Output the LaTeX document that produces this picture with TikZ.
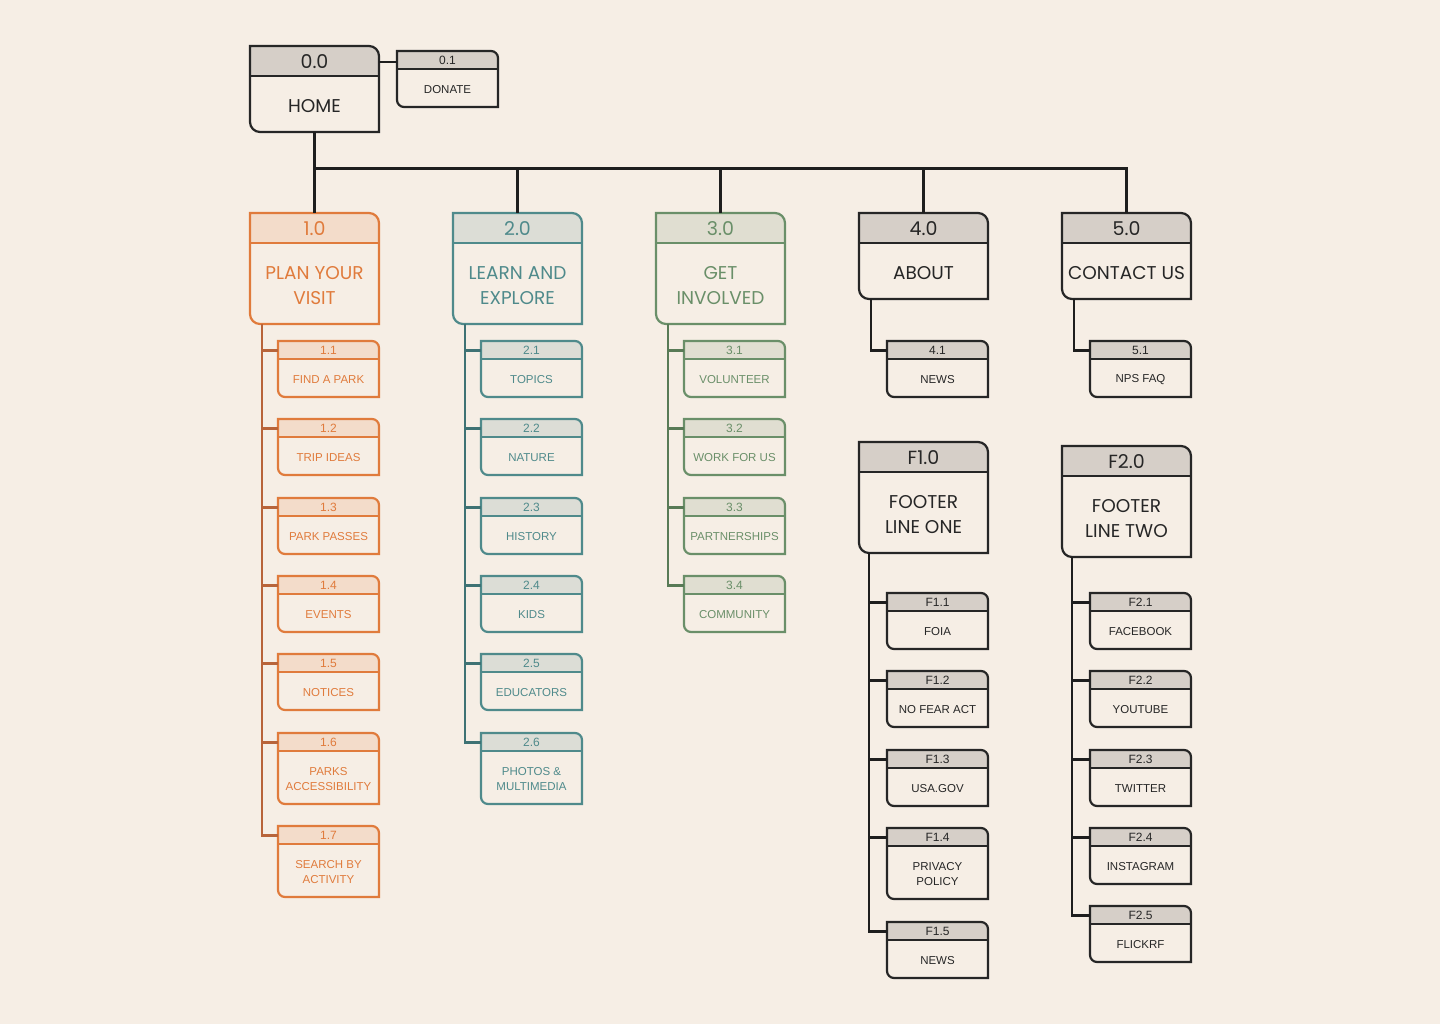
\documentclass[tikz,border=0pt]{standalone}
\usepackage{fontspec}
\setmainfont{Liberation Sans}
\newfontfamily\geofont{Poppins}

\definecolor{paper}{HTML}{F6EEE5}
\definecolor{planc}{HTML}{E07B3C}
\definecolor{planh}{HTML}{F3DCCA}
\definecolor{plant}{HTML}{B8643A}
\definecolor{learnc}{HTML}{4F8A8B}
\definecolor{learnh}{HTML}{DCDDD6}
\definecolor{learnt}{HTML}{3E7274}
\definecolor{getc}{HTML}{6A8F69}
\definecolor{geth}{HTML}{E0DED1}
\definecolor{gett}{HTML}{587A56}
\definecolor{homec}{HTML}{262626}
\definecolor{homeh}{HTML}{D6CFC8}
\definecolor{homet}{HTML}{1E1E1E}

% outline with rounded top right and bottom left corners
% #1 name, #2 left, #3 top, #4 width, #5 height, #6 head height, #7 radius, #8 theme
\newcommand\boxshape[8]{%
  \node[minimum width=#4pt, minimum height=#5pt, inner sep=0pt, anchor=north west] (#1) at (#2,#3) {};
  \fill[#8 head] (#2,#3+#6) -- (#2,#3) -- (#2+#4-#7,#3)
    .. controls (#2+#4-0.45*#7,#3) and (#2+#4,#3+0.45*#7) .. (#2+#4,#3+#7)
    -- (#2+#4,#3+#6) -- cycle;
  \draw[#8 line] (#2,#3+#6) -- (#2+#4,#3+#6);
  \draw[#8 line] (#2,#3) -- (#2+#4-#7,#3)
    .. controls (#2+#4-0.45*#7,#3) and (#2+#4,#3+0.45*#7) .. (#2+#4,#3+#7)
    -- (#2+#4,#3+#5) -- (#2+#7,#3+#5)
    .. controls (#2+0.45*#7,#3+#5) and (#2,#3+#5-0.45*#7) .. (#2,#3+#5-#7)
    -- cycle;
}
% #1 name, #2 left, #3 top, #4 height, #5 theme, #6 number, #7 label
\newcommand\bigbox[7]{%
  \boxshape{#1}{#2}{#3}{129}{#4}{30}{10}{#5}
  \node[#5 text, big number, minimum width=129pt, minimum height=30pt] (#1-id) at (#2+64.5,#3+16) {#6};
  \node[#5 text, big label] (#1-txt) at (#2+64.5,#3+#4/2+17) {#7};
}
\newcommand\smallbox[7]{%
  \boxshape{#1}{#2}{#3}{101}{#4}{18}{7}{#5}
  \node[#5 text, small number, minimum width=101pt, minimum height=18pt] (#1-id) at (#2+50.5,#3+9.5) {#6};
  \node[#5 text, small label] (#1-txt) at (#2+50.5,#3+#4/2+10.5) {#7};
}

\begin{document}
\begin{tikzpicture}[
    x=1pt, y=-1pt,
    big number/.style={font=\geofont\fontsize{19}{22}\selectfont, inner sep=0pt},
    big label/.style={font=\geofont\fontsize{18.5}{25}\selectfont, align=center, inner sep=0pt},
    small number/.style={font=\fontsize{12}{14}\selectfont, inner sep=0pt},
    small label/.style={font=\fontsize{11.5}{15}\selectfont, align=center, inner sep=0pt},
    plan line/.style={draw=planc, line width=2.2pt},
    plan head/.style={fill=planh},
    plan text/.style={text=planc},
    plan trunk/.style={draw=plant, line width=2.6pt},
    learn line/.style={draw=learnc, line width=2.2pt},
    learn head/.style={fill=learnh},
    learn text/.style={text=learnc},
    learn trunk/.style={draw=learnt, line width=2.6pt},
    get line/.style={draw=getc, line width=2.2pt},
    get head/.style={fill=geth},
    get text/.style={text=getc},
    get trunk/.style={draw=gett, line width=2.6pt},
    home line/.style={draw=homec, line width=2.2pt},
    home head/.style={fill=homeh},
    home text/.style={text=homec},
    home trunk/.style={draw=homet, line width=2.6pt}
]
\fill[paper] (0,0) rectangle (1440,1024);
\useasboundingbox (0,0) rectangle (1440,1024);

% Top level
\bigbox{home}{250}{46}{86}{home}{0.0}{HOME}
\smallbox{donate}{397}{51}{56}{home}{0.1}{DONATE}

\bigbox{plan}{250}{213}{111}{plan}{1.0}{PLAN YOUR\\VISIT}
\bigbox{learn}{453}{213}{111}{learn}{2.0}{LEARN AND\\EXPLORE}
\bigbox{get}{656}{213}{111}{get}{3.0}{GET\\INVOLVED}
\bigbox{about}{859}{213}{86}{home}{4.0}{ABOUT}
\bigbox{contact}{1062}{213}{86}{home}{5.0}{CONTACT US}
\bigbox{footone}{859}{442}{111}{home}{F1.0}{FOOTER\\LINE ONE}
\bigbox{foottwo}{1062}{446}{111}{home}{F2.0}{FOOTER\\LINE TWO}

% Children
\foreach \i/\y/\h/\txt in {1/341/56/FIND A PARK, 2/419/56/TRIP IDEAS,
    3/498/56/PARK PASSES, 4/576/56/EVENTS, 5/654/56/NOTICES,
    6/733/71/{PARKS\\ACCESSIBILITY}, 7/826/71/{SEARCH BY\\ACTIVITY}}
    \smallbox{p\i}{278}{\y}{\h}{plan}{1.\i}{\txt};

\foreach \i/\y/\h/\txt in {1/341/56/TOPICS, 2/419/56/NATURE,
    3/498/56/HISTORY, 4/576/56/KIDS, 5/654/56/EDUCATORS,
    6/733/71/{PHOTOS \&\\MULTIMEDIA}}
    \smallbox{l\i}{481}{\y}{\h}{learn}{2.\i}{\txt};

\foreach \i/\y/\h/\txt in {1/341/56/VOLUNTEER, 2/419/56/WORK FOR US,
    3/498/56/PARTNERSHIPS, 4/576/56/COMMUNITY}
    \smallbox{g\i}{684}{\y}{\h}{get}{3.\i}{\txt};

\smallbox{a1}{887}{341}{56}{home}{4.1}{NEWS}
\smallbox{c1}{1090}{341}{56}{home}{5.1}{NPS FAQ}

\foreach \i/\y/\h/\txt in {1/593/56/FOIA, 2/671/56/NO FEAR ACT,
    3/750/56/USA.GOV, 4/828/71/{PRIVACY\\POLICY}, 5/922/56/NEWS}
    \smallbox{fa\i}{887}{\y}{\h}{home}{F1.\i}{\txt};

\foreach \i/\y/\h/\txt in {1/593/56/FACEBOOK, 2/671/56/YOUTUBE,
    3/750/56/TWITTER, 4/828/56/INSTAGRAM, 5/906/56/FLICKRF}
    \smallbox{fb\i}{1090}{\y}{\h}{home}{F2.\i}{\txt};

% Connections
\draw[home trunk] (home-id.east) -- (home-id.east -| donate-id.west);
\foreach \n in {plan,learn,get,about,contact}
    \draw[home trunk] (home.south) -- ++(0,36) -| (\n.north);

\foreach \i in {1,...,7}
    \draw[plan trunk] ([xshift=12pt]plan.south west) |- (p\i-id.west);
\foreach \i in {1,...,6}
    \draw[learn trunk] ([xshift=12pt]learn.south west) |- (l\i-id.west);
\foreach \i in {1,...,4}
    \draw[get trunk] ([xshift=12pt]get.south west) |- (g\i-id.west);
\draw[home trunk] ([xshift=12pt]about.south west) |- (a1-id.west);
\draw[home trunk] ([xshift=12pt]contact.south west) |- (c1-id.west);
\foreach \i in {1,...,5}
    \draw[home trunk] ([xshift=10pt]footone.south west) |- (fa\i-id.west);
\foreach \i in {1,...,5}
    \draw[home trunk] ([xshift=10pt]foottwo.south west) |- (fb\i-id.west);

\end{tikzpicture}
\end{document}
